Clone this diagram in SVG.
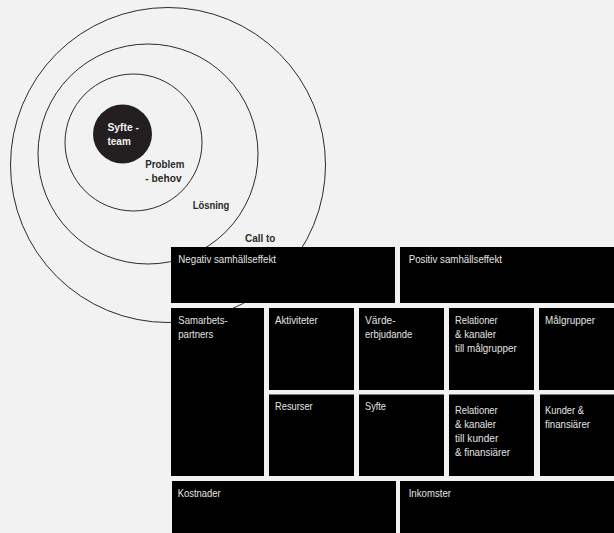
<svg xmlns="http://www.w3.org/2000/svg" width="614" height="533" viewBox="0 0 614 533">
<style>
.ring{fill:none;stroke:#2b2b2b;stroke-width:1}
.lbl{font-family:"Liberation Sans",Arial,sans-serif;font-weight:bold;font-size:11.5px;fill:#2a2a2a}
.box{fill:#000}
.bt{font-family:"Liberation Sans",Arial,sans-serif;font-size:10.5px;fill:#e4e4e4}
</style>
<rect width="614" height="533" fill="#f2f2f2"/>
<g id="circles">
  <circle class="ring" cx="168" cy="165" r="157.5"/>
  <circle class="ring" cx="148" cy="154" r="110"/>
  <circle class="ring" cx="133.5" cy="142.5" r="68.5"/>
  <g id="core">
    <circle cx="122.5" cy="134" r="29.5" fill="#231f20"/>
    <text class="lbl" style="fill:#f2f2f2" x="107.5" y="130.5" textLength="31.5" lengthAdjust="spacingAndGlyphs">Syfte -</text>
    <text class="lbl" style="fill:#f2f2f2" x="107.5" y="145" textLength="23.3" lengthAdjust="spacingAndGlyphs">team</text>
  </g>
  <text class="lbl" x="145.3" y="167.5" textLength="39" lengthAdjust="spacingAndGlyphs">Problem</text>
  <text class="lbl" x="145.3" y="182" textLength="36.3" lengthAdjust="spacingAndGlyphs">- behov</text>
  <text class="lbl" x="192.7" y="208.5" textLength="36.7" lengthAdjust="spacingAndGlyphs">Lösning</text>
  <text class="lbl" x="245" y="241.7" textLength="30.3" lengthAdjust="spacingAndGlyphs">Call to</text>
</g>
<g id="negativ"><rect class="box" x="171" y="247" width="224" height="56"/><text class="bt" x="178.3" y="262.5" textLength="97.7" lengthAdjust="spacingAndGlyphs">Negativ samhällseffekt</text></g>
<g id="positiv"><rect class="box" x="400" y="247" width="214" height="56"/><text class="bt" x="408.7" y="262.5" textLength="93.3" lengthAdjust="spacingAndGlyphs">Positiv samhällseffekt</text></g>
<g id="samarbetspartners"><rect class="box" x="171" y="308" width="93" height="168"/><text class="bt" x="178.3" y="323.5" textLength="49.3" lengthAdjust="spacingAndGlyphs">Samarbets-</text><text class="bt" x="178.3" y="337.5" textLength="35" lengthAdjust="spacingAndGlyphs">partners</text></g>
<g id="aktiviteter"><rect class="box" x="269" y="308" width="85" height="82"/><text class="bt" x="275" y="323.5" textLength="42.7" lengthAdjust="spacingAndGlyphs">Aktiviteter</text></g>
<g id="varde"><rect class="box" x="359" y="308" width="85" height="82"/><text class="bt" x="365" y="323.5" textLength="30.7" lengthAdjust="spacingAndGlyphs">Värde-</text><text class="bt" x="365" y="337.5" textLength="47.3" lengthAdjust="spacingAndGlyphs">erbjudande</text></g>
<g id="relationer-malgrupper"><rect class="box" x="449" y="308" width="85" height="82"/><text class="bt" x="455" y="323.5" textLength="42.7" lengthAdjust="spacingAndGlyphs">Relationer</text><text class="bt" x="455" y="337.5" textLength="41" lengthAdjust="spacingAndGlyphs">&amp; kanaler</text><text class="bt" x="455" y="351.5" textLength="61.7" lengthAdjust="spacingAndGlyphs">till målgrupper</text></g>
<g id="malgrupper"><rect class="box" x="539" y="308" width="75" height="82"/><text class="bt" x="545" y="323.5" textLength="50" lengthAdjust="spacingAndGlyphs">Målgrupper</text></g>
<g id="resurser"><rect class="box" x="269" y="394.5" width="85" height="81.5"/><text class="bt" x="275" y="410" textLength="37.7" lengthAdjust="spacingAndGlyphs">Resurser</text></g>
<g id="syfte"><rect class="box" x="359" y="394.5" width="85" height="81.5"/><text class="bt" x="365" y="410" textLength="21" lengthAdjust="spacingAndGlyphs">Syfte</text></g>
<g id="relationer-kunder"><rect class="box" x="449" y="394.5" width="85" height="81.5"/><text class="bt" x="455" y="414" textLength="42.7" lengthAdjust="spacingAndGlyphs">Relationer</text><text class="bt" x="455" y="428" textLength="41" lengthAdjust="spacingAndGlyphs">&amp; kanaler</text><text class="bt" x="455" y="442" textLength="43.3" lengthAdjust="spacingAndGlyphs">till kunder</text><text class="bt" x="455" y="456" textLength="55" lengthAdjust="spacingAndGlyphs">&amp; finansiärer</text></g>
<g id="kunder"><rect class="box" x="540" y="394.5" width="74" height="81.5"/><text class="bt" x="545" y="414" textLength="39" lengthAdjust="spacingAndGlyphs">Kunder &amp;</text><text class="bt" x="545" y="428" textLength="45" lengthAdjust="spacingAndGlyphs">finansiärer</text></g>
<g id="kostnader"><rect class="box" x="172" y="481" width="224" height="52"/><text class="bt" x="177.7" y="497" textLength="43" lengthAdjust="spacingAndGlyphs">Kostnader</text></g>
<g id="inkomster"><rect class="box" x="400" y="481" width="214" height="52"/><text class="bt" x="408.7" y="497" textLength="42.3" lengthAdjust="spacingAndGlyphs">Inkomster</text></g>
</svg>
